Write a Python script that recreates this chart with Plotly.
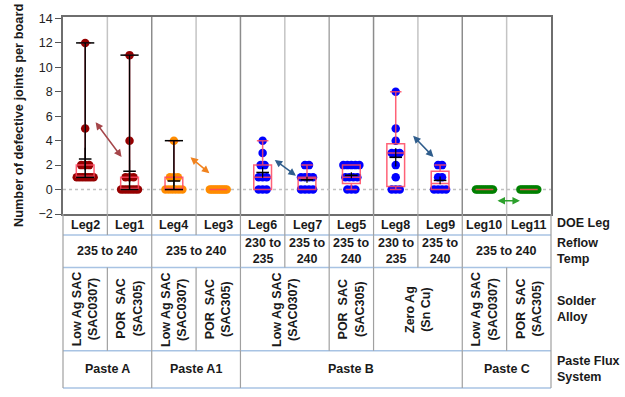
import numpy as np
import plotly.graph_objects as go

# ---- defects per board for each DOE leg (plotted left to right) ----
legs = ["Leg2", "Leg1", "Leg4", "Leg3", "Leg6", "Leg7", "Leg5", "Leg8", "Leg9", "Leg10", "Leg11"]
leg2 = [12, 5, 2, 2, 2, 1, 1, 1, 1, 1, 1, 1]
leg1 = [11, 4, 1, 1, 1, 0, 0, 0, 0, 0, 0, 0]
leg4 = [4, 1, 1, 1, 0, 0, 0, 0, 0, 0]
leg3 = [0, 0, 0, 0, 0, 0, 0, 0, 0, 0]
leg6 = [4, 3, 2, 2, 1, 1, 1, 0, 0, 0]
leg7 = [2, 2, 1, 1, 1, 1, 0, 0, 0, 0]
leg5 = [2, 2, 2, 2, 2, 1, 1, 1, 1, 0, 0, 0]
leg8 = [8, 5, 4, 3, 3, 3, 2, 1, 0, 0, 0]
leg9 = [2, 2, 1, 1, 0, 0, 0, 0]
leg10 = [0, 0, 0, 0, 0, 0, 0, 0, 0, 0]
leg11 = [0, 0, 0, 0, 0, 0, 0, 0, 0, 0]
leg_data = [leg2, leg1, leg4, leg3, leg6, leg7, leg5, leg8, leg9, leg10, leg11]

# ---- factor table under the plot: (label, first column, last column) ----
reflow_temp = [("235 to 240", 0, 1), ("235 to 240", 2, 3), ("230 to<br>235", 4, 4),
               ("235 to<br>240", 5, 5), ("235 to<br>240", 6, 6), ("230 to<br>235", 7, 7),
               ("235 to<br>240", 8, 8), ("235 to 240", 9, 10)]
solder_alloy = [("Low Ag SAC<br>(SAC0307)", 0, 0), ("POR\u00a0 SAC<br>(SAC305)", 1, 1),
                ("Low Ag SAC<br>(SAC0307)", 2, 2), ("POR\u00a0 SAC<br>(SAC305)", 3, 3),
                ("Low Ag SAC<br>(SAC0307)", 4, 5), ("POR\u00a0 SAC<br>(SAC305)", 6, 6),
                ("Zero Ag<br>(Sn Cu)", 7, 8), ("Low Ag SAC<br>(SAC0307)", 9, 9),
                ("POR\u00a0 SAC<br>(SAC305)", 10, 10)]
paste_flux = [("Paste A", 0, 1), ("Paste A1", 2, 3), ("Paste B", 4, 8), ("Paste C", 9, 10)]
row_titles = ["DOE Leg", "Reflow<br>Temp", "Solder<br>Alloy", "Paste Flux<br>System"]
y_ticks = [-2, 0, 2, 4, 6, 8, 10, 12, 14]

# ---- styling ----
FONT = "Liberation Sans, Arial, sans-serif"
dot_colors = ["#960000"] * 2 + ["#ff8c00"] * 2 + ["#0000ff"] * 5 + ["#008000"] * 2
range_in_black = [True, True, True] + [False] * 8
BOX_RED = "rgba(255,70,95,0.85)"
TXT = "#1a1a1a"
GRID_LIGHT = "#c4c4c4"
GRID_DARK = "#8c8c8c"
TABLE_BLUE = "#a8c3e3"
TABLE_GRAY = "#a0a0a0"
X_RANGE = [-0.5, 10.5]
# a hair of headroom above 14 keeps the top tick label from being dropped at the frame edge
Y_RANGE = [-2, 14.12]

# table row edges in paper units (top of table = bottom of plot)
PLOT_BOTTOM = 0.469
row_edges = [PLOT_BOTTOM, 0.4121, 0.325, 0.1004, 0.0]
row_mid = [(row_edges[k] + row_edges[k + 1]) / 2 for k in range(4)]


def swarm_offsets(vals, step=0.09, max_span=0.38):
    """Spread equal values side by side so each board stays visible."""
    vals = np.asarray(vals, dtype=float)
    off = np.zeros(len(vals))
    for v in np.unique(vals):
        idx = np.where(vals == v)[0]
        n = len(idx)
        if n > 1:
            s = min(step, max_span / (n - 1))
            off[idx] = (np.arange(n) - (n - 1) / 2) * s
    return off


fig = go.Figure()

# individual boards (base subplot, beneath the box outlines)
for i, vals in enumerate(leg_data):
    fig.add_trace(go.Scatter(
        x=i + swarm_offsets(vals), y=vals, mode="markers",
        marker=dict(size=8.5, color=dot_colors[i], line=dict(width=0)),
        hoverinfo="y", showlegend=False, xaxis="x", yaxis="y"))

# box plots with min-max whiskers (overlay subplot, drawn on top of the dots)
for i, vals in enumerate(leg_data):
    fig.add_trace(go.Box(
        x=[i] * len(vals), y=vals, boxpoints=False, width=0.4, whiskerwidth=0.65,
        line=dict(color=BOX_RED, width=1.5), fillcolor="rgba(0,0,0,0)",
        showlegend=False, xaxis="x2", yaxis="y2"))

# black range lines for the Paste A / Paste A1 legs
for i, vals in enumerate(leg_data):
    if range_in_black[i]:
        lo, hi = min(vals), max(vals)
        fig.add_trace(go.Scatter(
            x=[i, i], y=[lo, hi], mode="lines+markers",
            line=dict(color="black", width=1.5),
            marker=dict(symbol="line-ew", size=13, line=dict(color="black", width=1.5)),
            showlegend=False, hoverinfo="skip", xaxis="x2", yaxis="y2"))

# mean with standard-error bar
for i, vals in enumerate(leg_data):
    arr = np.asarray(vals, dtype=float)
    if arr.std() == 0:
        continue
    se = arr.std(ddof=1) / np.sqrt(len(arr))
    fig.add_trace(go.Scatter(
        x=[i], y=[arr.mean()], mode="markers",
        marker=dict(symbol="line-ew", size=9, line=dict(color="black", width=1.5)),
        error_y=dict(type="data", array=[se], width=0, thickness=1.2, color="black"),
        showlegend=False, hoverinfo="y", xaxis="x2", yaxis="y2"))

shapes = []
# column separators inside the plot
for b in range(10):
    xb = b + 0.5
    dark = xb in (1.5, 3.5, 6.5, 8.5)
    col = GRID_DARK if dark else ("#a8a8a8" if xb == 5.5 else GRID_LIGHT)
    shapes.append(dict(type="line", xref="x", yref="y domain", x0=xb, x1=xb, y0=0, y1=1,
                       line=dict(color=col, width=1.5), layer="below"))
# dotted zero reference
shapes.append(dict(type="line", xref="x domain", yref="y", x0=0, x1=1, y0=0, y1=0,
                   line=dict(color="#c0c0c0", width=1.5, dash="dot"), layer="below"))

# table horizontal rules
for yb in row_edges[1:]:
    shapes.append(dict(type="line", xref="paper", yref="paper", x0=0, x1=1, y0=yb, y1=yb,
                       line=dict(color=TABLE_BLUE, width=1.5)))
# table outer verticals
for xb in (0, 1):
    shapes.append(dict(type="line", xref="paper", yref="paper", x0=xb, x1=xb,
                       y0=0, y1=PLOT_BOTTOM, line=dict(color=TABLE_GRAY, width=1.2)))

leg_row = [(name, k, k) for k, name in enumerate(legs)]
table_rows = [leg_row, reflow_temp, solder_alloy, paste_flux]

annotations = []
for r, cells in enumerate(table_rows):
    y_top, y_bot = row_edges[r], row_edges[r + 1]
    for text, c0, c1 in cells:
        if c1 < 10:
            shapes.append(dict(type="line", xref="x", yref="paper", x0=c1 + 0.5, x1=c1 + 0.5,
                               y0=y_bot, y1=y_top, line=dict(color=TABLE_GRAY, width=1.2)))
        annotations.append(dict(
            x=(c0 + c1) / 2, y=row_mid[r], xref="x", yref="paper", text=text,
            showarrow=False, textangle=-90 if r == 2 else 0,
            font=dict(family=FONT, size=12.5, color=TXT, weight="bold"),
            xanchor="center", yanchor="middle", align="center"))
    annotations.append(dict(
        x=1.008, y=row_mid[r] + (0.004 if r == 0 else 0), xref="paper", yref="paper",
        text=row_titles[r], showarrow=False, xanchor="left", yanchor="middle", align="left",
        font=dict(family=FONT, size=12.5, color=TXT, weight="bold")))

# y-axis title
annotations.append(dict(
    x=-0.0922, y=0.733, xref="paper", yref="paper", textangle=-90,
    text="Number of defective joints per board", showarrow=False,
    font=dict(family=FONT, size=12.8, color=TXT, weight="bold"),
    xanchor="center", yanchor="middle"))

# double-headed comparison arrows between paired legs
arrows = [
    (0.21, 5.64, 0.82, 2.66, "#a5464a"),
    (2.34, 2.74, 2.80, 1.34, "#f0821e"),
    (4.24, 2.52, 4.75, 1.14, "#2f5d8c"),
    (7.36, 4.52, 7.85, 2.66, "#2f5d8c"),
    (9.26, -0.92, 9.80, -0.92, "#2ca02c"),
]
for x0, y0, x1, y1, c in arrows:
    annotations.append(dict(
        x=x1, y=y1, ax=x0, ay=y0, xref="x", yref="y", axref="x", ayref="y", text="",
        showarrow=True, arrowhead=2, arrowside="end+start", arrowsize=1, arrowwidth=1.5,
        arrowcolor=c, standoff=0, startstandoff=0))

fig.update_layout(
    width=625, height=397,
    margin=dict(l=63, r=74, t=16.5, b=2),
    paper_bgcolor="white", plot_bgcolor="white",
    boxmode="overlay", showlegend=False,
    font=dict(family=FONT, color=TXT),
    xaxis=dict(range=X_RANGE, autorange=False, showticklabels=False, ticks="", showgrid=False,
               zeroline=False, showline=True, mirror=True, linecolor="#6e6e6e", linewidth=1.5,
               anchor="y"),
    yaxis=dict(range=Y_RANGE, autorange=False, tickmode="array", tickvals=y_ticks,
               ticklabeloverflow="allow",
               domain=[PLOT_BOTTOM, 1], ticks="outside", ticklen=6,
               tickcolor="#555555", tickwidth=1.2, showgrid=False, zeroline=False,
               showline=True, mirror=True, linecolor="#6e6e6e", linewidth=1.5,
               tickfont=dict(family=FONT, size=12.5, color="#222222")),
    xaxis2=dict(overlaying="x", range=X_RANGE, autorange=False, visible=False, anchor="y2"),
    yaxis2=dict(overlaying="y", range=Y_RANGE, autorange=False, visible=False, anchor="x2",
                domain=[PLOT_BOTTOM, 1]),
    shapes=shapes, annotations=annotations,
)

fig.write_html("out.html")
